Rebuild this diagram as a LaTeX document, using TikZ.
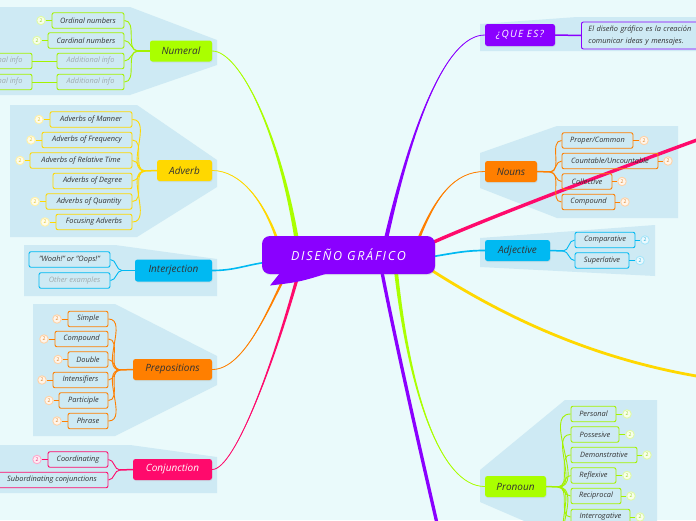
\documentclass[tikz,border=0pt]{standalone}
\usepackage{fontspec}
\setmainfont{Open Sans}
\usetikzlibrary{calc,shadows}
\definecolor{bgc}{HTML}{EAFAFB}
\definecolor{panelc}{HTML}{CEEAF4}
\definecolor{cpurple}{HTML}{8A00FF}
\definecolor{clime}{HTML}{AAFF00}
\definecolor{climeln}{HTML}{A4F200}
\definecolor{cyellow}{HTML}{FFD800}
\definecolor{ccyan}{HTML}{00B9F2}
\definecolor{corange}{HTML}{FF7F00}
\definecolor{cpink}{HTML}{FF0A6C}
\definecolor{txt}{HTML}{333333}
\definecolor{gtxt}{HTML}{9FAAAD}
\pgfdeclarelayer{panels}
\pgfdeclarelayer{links}
\pgfsetlayers{panels,links,main}
\tikzset{
  mainbox/.style={rounded corners=2.5pt, inner sep=0pt, font=\fontsize{10}{11}\selectfont\itshape, text=txt,
    drop shadow={opacity=0.12, shadow xshift=0.6pt, shadow yshift=-1pt}},
  childbox/.style={draw=#1, line width=0.9pt, rounded corners=2pt, inner sep=0pt, minimum height=15.5pt,
    font=\fontsize{7.4}{8}\selectfont\itshape, text=txt},
  badge/.style={circle, draw=#1!35, fill=#1!8!white, line width=0.9pt, minimum size=8.5pt, inner sep=0pt,
    font=\fontsize{5}{5}\selectfont, text=#1!75!gray},
  sub/.style={#1, line width=0.9pt},
  trunk/.style={#1, line width=1.5pt},
}
\newcommand\taperlink[6]{%
  \fill[#1] ($(#2)+(-#6,0)$) .. controls ($(#3)+(-#6/2,0)$) and (#4) .. (#5) .. controls (#4) and ($(#3)+(#6/2,0)$) .. ($(#2)+(#6,0)$) -- cycle;
  \draw[#1, line width=0.8pt] (#2) .. controls (#3) and (#4) .. (#5);
}
\begin{document}
\begin{tikzpicture}[x=1pt,y=-1pt]
\useasboundingbox (0,0) rectangle (696,520);
\begin{pgfonlayer}{panels}
\begin{scope}
\clip (0,0) rectangle (696,520);
\fill[bgc] (0,0) rectangle (696,520);
% left panels
\fill[panelc] (-2,7) -- (130,7) -- (217,40) -- (217,65) -- (130,95) -- (-2,95) -- cycle;
\fill[panelc] (10,105) -- (137,105) -- (217,160) -- (217,187) -- (137,237) -- (10,237) -- cycle;
\fill[panelc] (24,245) -- (115,245) -- (217,259) -- (217,296) -- (24,296) -- cycle;
\fill[panelc] (33,304) -- (115,304) -- (217,356) -- (217,385) -- (115,436) -- (33,436) -- cycle;
\fill[panelc] (-2,445) -- (130,445) -- (217,457) -- (217,493) -- (-2,493) -- cycle;
% right panels
\fill[panelc] (480,24) -- (577,17) -- (700,17) -- (700,51) -- (480,51) -- cycle;
\fill[panelc] (480,153) -- (557,126) -- (678,126) -- (678,218) -- (557,218) -- (480,188) -- cycle;
\fill[panelc] (480,238) -- (655,225) -- (655,276) -- (480,267) -- cycle;
\fill[panelc] (480,470) -- (565,400) -- (657,400) -- (657,530) -- (545,530) -- (480,502) -- cycle;
\end{scope}
\end{pgfonlayer}

\begin{scope}
\clip (0,0) rectangle (696,520);
% centre
\node[fill=cpurple, rounded corners=8pt, minimum width=173pt, minimum height=38pt, inner sep=0pt, text=white,
  font=\fontsize{12.5}{13}\selectfont\itshape\addfontfeatures{LetterSpace=14},
  drop shadow={opacity=0.15, shadow xshift=0.6pt, shadow yshift=-1.2pt}] (center) at (348.5,255) {DISEÑO GRÁFICO};
\coordinate (tailA) at (284,268);
\coordinate (tailTip) at (270,285.5);
\coordinate (tailB) at (338,270);
\fill[cpurple] (tailA) -- (tailTip) .. controls (300,282) .. (tailB) -- cycle;

% Numeral
\node[mainbox, fill=clime, minimum width=62pt, minimum height=21pt] (numeral) at (181,51) {Numeral};
\node[childbox=climeln, minimum width=72pt] (n1) at (88,20.5) {Ordinal numbers};
\node[childbox=climeln, minimum width=76pt] (n2) at (86,40.5) {Cardinal numbers};
\node[childbox=climeln, minimum width=67pt, text=gtxt] (n3) at (90.5,61) {Additional info};
\node[childbox=climeln, minimum width=67pt, text=gtxt] (n4) at (90.5,82) {Additional info};
\node[childbox=climeln, minimum width=67pt, text=gtxt] (n3b) at (-1.5,61) {Additional info};
\node[childbox=climeln, minimum width=67pt, text=gtxt] (n4b) at (-1.5,82) {Additional info};
\node[badge=climeln] (nb1) at (41,20.5) {2};
\node[badge=climeln] (nb2) at (37,40.5) {2};
\coordinate (jn) at (138,51);

% Adverb
\node[mainbox, fill=cyellow, minimum width=55pt, minimum height=21pt] (adverb) at (184.5,170.5) {Adverb};
\node[childbox=cyellow, minimum width=82pt] (a1) at (91,119.5) {Adverbs of Manner};
\node[childbox=cyellow, minimum width=90pt] (a2) at (87,140) {Adverbs of Frequency};
\node[childbox=cyellow, minimum width=102pt] (a3) at (81,160.5) {Adverbs of Relative Time};
\node[childbox=cyellow, minimum width=79pt] (a4) at (92.5,181) {Adverbs of Degree};
\node[childbox=cyellow, minimum width=86pt] (a5) at (89,201.5) {Adverbs of Quantity};
\node[childbox=cyellow, minimum width=76pt] (a6) at (94,222) {Focusing Adverbs};
\node[badge=cyellow] (ab1) at (39,119.5) {2};
\node[badge=cyellow] (ab2) at (31,140) {2};
\node[badge=cyellow] (ab3) at (20,160.5) {2};
\node[badge=cyellow] (ab5) at (35,201.5) {2};
\node[badge=cyellow] (ab6) at (45,222) {2};
\coordinate (ja) at (145,171);

% Interjection
\node[mainbox, fill=ccyan, minimum width=77pt, minimum height=22pt] (interj) at (173.5,270.5) {Interjection};
\node[childbox=ccyan, minimum width=81pt] (i1) at (69.5,259.5) {"Woah!" or "Oops!"};
\node[childbox=ccyan, minimum width=71pt, text=gtxt] (i2) at (74.5,280.5) {Other examples};
\coordinate (ji) at (122,270.5);

% Prepositions
\node[mainbox, fill=corange, minimum width=79pt, minimum height=21pt] (prep) at (172.5,369.5) {Prepositions};
\node[childbox=corange, minimum width=40pt] (p1) at (88,319) {Simple};
\node[childbox=corange, minimum width=53pt] (p2) at (81.5,339) {Compound};
\node[childbox=corange, minimum width=40pt] (p3) at (88,359.5) {Double};
\node[childbox=corange, minimum width=55pt] (p4) at (80.5,380) {Intensifiers};
\node[childbox=corange, minimum width=49pt] (p5) at (83.5,400.5) {Participle};
\node[childbox=corange, minimum width=40pt] (p6) at (88,421) {Phrase};
\node[badge=corange] (pb1) at (57,319) {2};
\node[badge=corange] (pb2) at (44,339) {2};
\node[badge=corange] (pb3) at (58,359.5) {2};
\node[badge=corange] (pb4) at (42,380) {2};
\node[badge=corange] (pb5) at (49,400.5) {2};
\node[badge=corange] (pb6) at (57,421) {2};
\coordinate (jp) at (120,370);

% Conjunction
\node[mainbox, fill=cpink, text=white, minimum width=79pt, minimum height=21pt] (conj) at (172.5,469.5) {Conjunction};
\node[childbox=cpink, minimum width=60pt] (c1) at (78,459.5) {Coordinating};
\node[childbox=cpink, minimum width=112pt] (c2) at (52,480) {Subordinating conjunctions};
\node[badge=cpink] (cb1) at (37,459.5) {2};
\coordinate (jc) at (120,470);

% QUE ES
\node[mainbox, fill=cpurple, text=white, minimum width=70pt, minimum height=22pt,
  font=\fontsize{10}{11}\selectfont\itshape\addfontfeatures{LetterSpace=12}] (que) at (520,35) {¿QUE ES?};
\node[childbox=cpurple, anchor=west, minimum height=27pt, inner xsep=7pt, text width=130pt, align=left,
  font=\fontsize{7.4}{12.5}\selectfont\itshape] (desc) at (581,35.5) {El diseño gráfico es la creación\\comunicar ideas y mensajes.};

% Nouns
\node[mainbox, fill=corange, minimum width=52pt, minimum height=21pt] (nouns) at (511,171.5) {Nouns};
\node[childbox=corange, minimum width=71pt] (r1) at (597.5,140.5) {Proper/Common};
\node[childbox=corange, minimum width=96pt] (r2) at (610,161) {Countable/Uncountable};
\node[childbox=corange, minimum width=50pt] (r3) at (587,181.5) {Collective};
\node[childbox=corange, minimum width=53pt] (r4) at (588.5,202) {Compound};
\node[badge=corange] (rb1) at (644,140.5) {2};
\node[badge=corange] (rb2) at (668,161) {2};
\node[badge=corange] (rb3) at (622,181.5) {2};
\node[badge=corange] (rb4) at (625,202) {2};
\coordinate (jr) at (550,172);

% Adjective
\node[mainbox, fill=ccyan, minimum width=65pt, minimum height=21pt] (adj) at (517.5,250.5) {Adjective};
\node[childbox=ccyan, minimum width=60pt] (j1) at (605,240) {Comparative};
\node[childbox=ccyan, minimum width=54pt] (j2) at (602,260.5) {Superlative};
\node[badge=ccyan] (jb1) at (645,240) {2};
\node[badge=ccyan] (jb2) at (640,260.5) {2};
\coordinate (jj) at (563,251);

% Pronoun
\node[mainbox, fill=clime, minimum width=61pt, minimum height=21pt] (pron) at (515.5,486.5) {Pronoun};
\node[childbox=climeln, minimum width=45pt] (q1) at (593.5,414) {Personal};
\node[childbox=climeln, minimum width=48pt] (q2) at (595,434.5) {Possesive};
\node[childbox=climeln, minimum width=66pt] (q3) at (604,455) {Demonstrative};
\node[childbox=climeln, minimum width=45pt] (q4) at (593.5,475.5) {Reflexive};
\node[childbox=climeln, minimum width=50pt] (q5) at (596,496) {Reciprocal};
\node[childbox=climeln, minimum width=59pt] (q6) at (600.5,517) {Interrogative};
\node[badge=climeln] (qb1) at (627,414) {2};
\node[badge=climeln] (qb2) at (630,434.5) {2};
\node[badge=climeln] (qb3) at (647,455) {2};
\node[badge=climeln] (qb4) at (627,475.5) {2};
\node[badge=climeln] (qb5) at (631,496) {2};
\node[badge=climeln] (qb6) at (640,517) {2};
\coordinate (jq) at (558,487);
\coordinate (q7) at (571,537);
\coordinate (q8) at (571,557);
\end{scope}

\begin{pgfonlayer}{links}
\begin{scope}
\clip (0,0) rectangle (696,520);
% start points on the centre node
\coordinate (sNum) at (298,248);
\coordinate (sAdv) at (280,248);
\coordinate (sInt) at (268,262);
\coordinate (sPre) at (289,268);
\coordinate (sCon) at (300,268);
\coordinate (sQue) at (384,248);
\coordinate (sNou) at (415,248);
\coordinate (sPin) at (425,246);
\coordinate (sAdj) at (430,257);
\coordinate (sYel) at (425,266);
\coordinate (sPur) at (380,262);
\coordinate (sPro) at (395,262);
\coordinate (ePin) at (730,128);
\coordinate (eYel) at (730,381);
\coordinate (ePur) at (442,545);

\taperlink{clime}{sNum}{281,135}{240,51}{numeral.east}{2.3}
\taperlink{cyellow}{sAdv}{265,200}{240,170.5}{adverb.east}{1.6}
\draw[ccyan, line width=1.6pt] (sInt) .. controls (245,265) and (235,270.5) .. (interj.east);
\taperlink{corange}{sPre}{270,305}{245,369.5}{prep.east}{1.6}
\taperlink{cpink}{sCon}{275,360}{235,469.5}{conj.east}{1.8}
\taperlink{cpurple}{sQue}{410,130}{445,35}{que.west}{2.2}
\taperlink{corange}{sNou}{435,195}{455,171.5}{nouns.west}{1.6}
\draw[cpink, line width=3.4pt] (sPin) .. controls (470,225) and (600,175) .. (ePin);
\draw[ccyan, line width=1.7pt] (sAdj) .. controls (455,253) and (465,250.5) .. (adj.west);
\draw[cyellow, line width=2.8pt] (sYel) .. controls (500,315) and (600,365) .. (eYel);
\draw[cpurple, line width=3.3pt] (sPur) .. controls (395,340) and (420,450) .. (ePur);
\taperlink{clime}{sPro}{408,390}{440,486.5}{pron.west}{2}

% Numeral
\foreach \c in {n1,n2,n3,n4} \draw[sub=climeln] (\c.east) to[out=0,in=180] (jn);
\draw[trunk=climeln] (jn) -- (numeral.west);
\draw[sub=climeln] (nb1) -- (n1.west);
\draw[sub=climeln] (nb2) -- (n2.west);
\draw[sub=climeln] (n3b.east) -- (n3.west);
\draw[sub=climeln] (n4b.east) -- (n4.west);
% Adverb
\foreach \c in {a1,a2,a3,a4,a5,a6} \draw[sub=cyellow] (\c.east) to[out=0,in=180] (ja);
\draw[trunk=cyellow] (ja) -- (adverb.west);
\foreach \b/\c in {ab1/a1,ab2/a2,ab3/a3,ab5/a5,ab6/a6} \draw[sub=cyellow] (\b) -- (\c.west);
% Interjection
\foreach \c in {i1,i2} \draw[sub=ccyan] (\c.east) to[out=0,in=180] (ji);
\draw[trunk=ccyan] (ji) -- (interj.west);
% Prepositions
\foreach \c in {p1,p2,p3,p4,p5,p6} \draw[sub=corange] (\c.east) to[out=0,in=180] (jp);
\draw[trunk=corange] (jp) -- (prep.west);
\foreach \b/\c in {pb1/p1,pb2/p2,pb3/p3,pb4/p4,pb5/p5,pb6/p6} \draw[sub=corange] (\b) -- (\c.west);
% Conjunction
\foreach \c in {c1,c2} \draw[sub=cpink] (\c.east) to[out=0,in=180] (jc);
\draw[trunk=cpink] (jc) -- (conj.west);
\draw[sub=cpink] (cb1) -- (c1.west);
% QUE ES
\draw[trunk=cpurple] (que.east) -- (desc.west);
% Nouns
\draw[trunk=corange] (nouns.east) -- (jr);
\foreach \c in {r1,r2,r3,r4} \draw[sub=corange] (jr) to[out=0,in=180] (\c.west);
\foreach \b/\c in {rb1/r1,rb2/r2,rb3/r3,rb4/r4} \draw[sub=corange] (\c.east) -- (\b);
% Adjective
\draw[trunk=ccyan] (adj.east) -- (jj);
\foreach \c in {j1,j2} \draw[sub=ccyan] (jj) to[out=0,in=180] (\c.west);
\foreach \b/\c in {jb1/j1,jb2/j2} \draw[sub=ccyan] (\c.east) -- (\b);
% Pronoun
\draw[trunk=climeln] (pron.east) -- (jq);
\foreach \c in {q1,q2,q3,q4,q5,q6} \draw[sub=climeln] (jq) to[out=0,in=180] (\c.west);
\foreach \c in {q7,q8} \draw[sub=climeln] (jq) to[out=0,in=180] (\c);
\foreach \b/\c in {qb1/q1,qb2/q2,qb3/q3,qb4/q4,qb5/q5,qb6/q6} \draw[sub=climeln] (\c.east) -- (\b);
\end{scope}
\end{pgfonlayer}
\end{tikzpicture}
\end{document}
